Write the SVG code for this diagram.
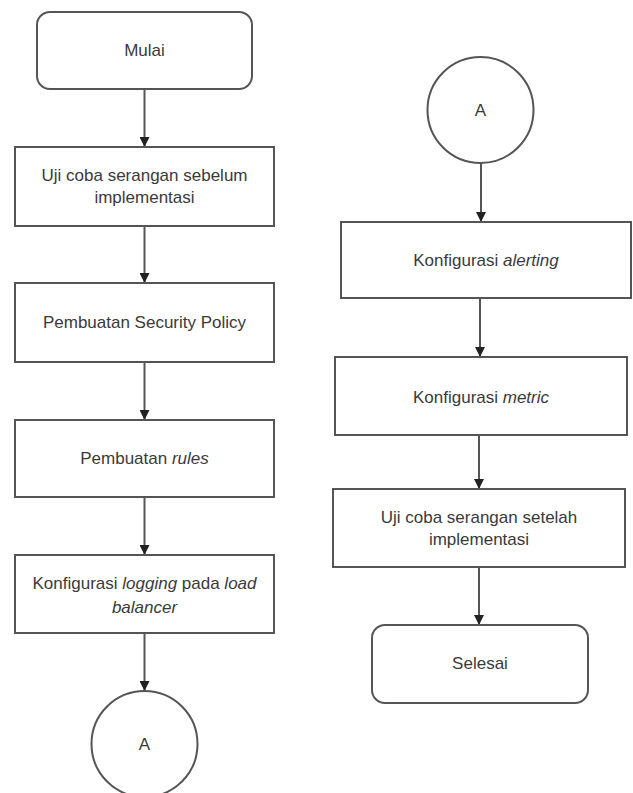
<svg xmlns="http://www.w3.org/2000/svg" width="633" height="793" viewBox="0 0 633 793">
<style>
.box{fill:#fff;stroke:#555;stroke-width:2}
.t{font-family:"Liberation Sans",Arial,sans-serif;font-size:17px;fill:#3a3a3a;text-anchor:middle}
.c{stroke:#555;stroke-width:2;fill:none;marker-end:url(#ah)}
</style>
<defs>
<marker id="ah" viewBox="0 0 10 10" refX="10" refY="5" markerWidth="5" markerHeight="5" orient="auto" markerUnits="strokeWidth">
<path d="M0,0 L10,5 L0,10 z" fill="#222"/>
</marker>
</defs>
<rect width="633" height="793" fill="#fff"/>
<g id="connectors">
<line class="c" x1="144.5" y1="89" x2="144.5" y2="147"/>
<line class="c" x1="144.5" y1="226" x2="144.5" y2="283"/>
<line class="c" x1="144.5" y1="362" x2="144.5" y2="420"/>
<line class="c" x1="144.5" y1="497" x2="144.5" y2="555"/>
<line class="c" x1="144.5" y1="633" x2="144.5" y2="691"/>
<line class="c" x1="481" y1="163" x2="481" y2="222"/>
<line class="c" x1="480" y1="298" x2="480" y2="357"/>
<line class="c" x1="479" y1="435" x2="479" y2="489"/>
<line class="c" x1="479" y1="567" x2="479" y2="625"/>
</g>
<g id="mulai">
<rect class="box" x="37" y="12" width="215" height="77" rx="13"/>
<text class="t" x="144.5" y="56">Mulai</text>
</g>
<g id="uji-sebelum">
<rect class="box" x="15" y="147" width="259" height="79"/>
<text class="t" x="144.5" y="181">Uji coba serangan sebelum</text>
<text class="t" x="144.5" y="203">implementasi</text>
</g>
<g id="security-policy">
<rect class="box" x="15" y="283" width="259" height="79"/>
<text class="t" x="144.5" y="328">Pembuatan Security Policy</text>
</g>
<g id="rules">
<rect class="box" x="15" y="420" width="259" height="77"/>
<text class="t" x="144.5" y="464">Pembuatan <tspan font-style="italic">rules</tspan></text>
</g>
<g id="logging">
<rect class="box" x="15" y="555" width="259" height="78"/>
<text class="t" x="144.5" y="589">Konfigurasi <tspan font-style="italic">logging</tspan> pada <tspan font-style="italic">load</tspan></text>
<text class="t" x="144.5" y="613" font-style="italic">balancer</text>
</g>
<g id="connector-a-out">
<circle class="box" cx="144.5" cy="744" r="53"/>
<text class="t" x="144.5" y="750">A</text>
</g>
<g id="connector-a-in">
<circle class="box" cx="480.5" cy="110" r="53"/>
<text class="t" x="480.5" y="116">A</text>
</g>
<g id="alerting">
<rect class="box" x="341" y="222" width="290" height="76"/>
<text class="t" x="486" y="266">Konfigurasi <tspan font-style="italic">alerting</tspan></text>
</g>
<g id="metric">
<rect class="box" x="335" y="357" width="292" height="78"/>
<text class="t" x="481" y="403">Konfigurasi <tspan font-style="italic">metric</tspan></text>
</g>
<g id="uji-setelah">
<rect class="box" x="333" y="489" width="292" height="78"/>
<text class="t" x="479" y="523">Uji coba serangan setelah</text>
<text class="t" x="479" y="545">implementasi</text>
</g>
<g id="selesai">
<rect class="box" x="372" y="625" width="216" height="78" rx="13"/>
<text class="t" x="480" y="669">Selesai</text>
</g>
</svg>
